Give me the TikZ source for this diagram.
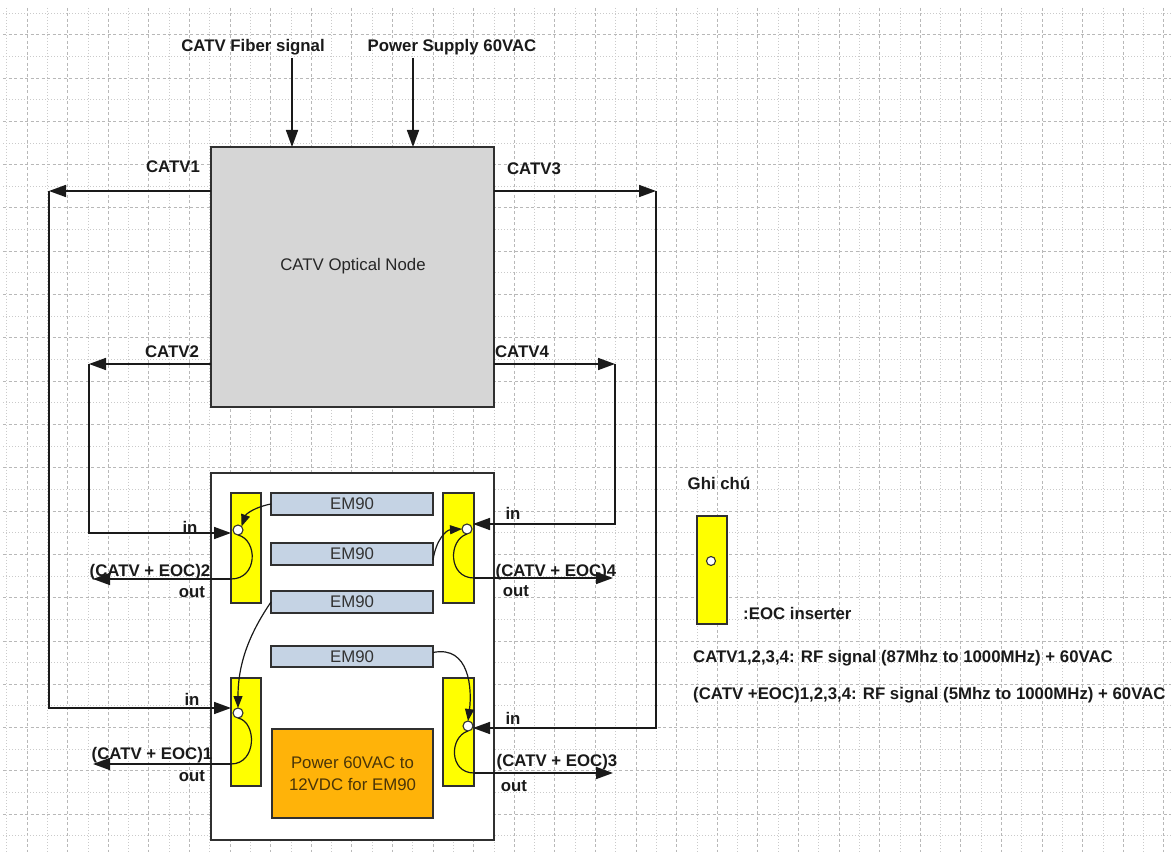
\documentclass[tikz,border=0pt]{standalone}
\usepackage{fontspec}
\setmainfont{Liberation Sans}
\usetikzlibrary{arrows.meta}
\definecolor{gbox}{HTML}{D6D6D6}
\definecolor{emfill}{HTML}{C5D3E4}
\definecolor{pwfill}{HTML}{FFB309}
\definecolor{yfill}{HTML}{FFFF00}
\definecolor{edge}{HTML}{303030}
\definecolor{ink}{HTML}{1A1A1A}
\definecolor{gmajc}{HTML}{B8B8B8}
\definecolor{gminc}{HTML}{CACACA}
\definecolor{pwtext}{HTML}{4A3508}
\begin{document}
\begin{tikzpicture}[x=1pt,y=-1pt,
  gmaj/.style={draw=gmajc,line width=0.7pt,dash pattern=on 3pt off 2.5pt},
  gmin/.style={draw=gminc,line width=0.7pt,dash pattern=on 1pt off 2pt},
  boxbase/.style={draw=edge,line width=1.5pt,inner sep=0pt,outer sep=0pt},
  graybox/.style={boxbase,fill=gbox,minimum width=283pt,minimum height=260pt},
  outerbox/.style={boxbase,fill=white,minimum width=283pt,minimum height=367pt},
  embox/.style={boxbase,fill=emfill,minimum width=162pt,minimum height=22pt,text=black!80,font=\fontsize{16.8}{19}\selectfont},
  pwbox/.style={boxbase,fill=pwfill,minimum width=161pt,minimum height=89pt,text=pwtext,align=center,font=\fontsize{16.8}{22}\selectfont},
  ybar/.style={boxbase,fill=yfill,minimum width=30pt,minimum height=110pt},
  port/.style={circle,draw=edge,line width=1.1pt,fill=white,minimum size=10pt,inner sep=0pt,outer sep=0pt},
  lab/.style={inner sep=0pt,text=ink,font=\fontsize{16.8}{19}\selectfont\bfseries},
  plain/.style={inner sep=0pt,text=black!85,font=\fontsize{16.8}{19}\selectfont},
  ln/.style={draw=ink,line width=1.6pt},
  arr/.style={ln,-{Triangle[length=17pt,width=12pt]}},
  sarr/.style={draw=ink,line width=1.2pt,-{Triangle[length=12pt,width=9pt]}},
]
\useasboundingbox (0,0) rectangle (1171,858);
\fill[white] (0,0) rectangle (1171,858);
% grid
\foreach \k in {0,...,57}{%
  \pgfmathsetmacro{\gx}{6.7+20.3*\k}%
  \ifodd\k\relax \draw[gmaj] (\gx,8) -- (\gx,852);\else \draw[gmin] (\gx,8) -- (\gx,852);\fi}
\foreach \k in {0,...,38}{%
  \pgfmathsetmacro{\gy}{13+21.65*\k}%
  \ifodd\k\relax \draw[gmaj] (3,\gy) -- (1171,\gy);\else \draw[gmin] (3,\gy) -- (1171,\gy);\fi}

% optical node
\node[graybox] (optnode) at (352.5,277) {};
\node[plain] (tnode) at (353,266) {CATV Optical Node};

% top inputs
\node[lab] (tfib) at (253,47) {CATV Fiber signal};
\node[lab] (tpwr) at (452,47) {Power Supply 60VAC};
\coordinate (fibst) at (292,58);
\coordinate (pwrst) at (413,58);
\draw[arr] (fibst) -- (fibst |- optnode.north);
\draw[arr] (pwrst) -- (pwrst |- optnode.north);

% CATV labels
\node[lab] (t1) at (173,167) {CATV1};
\node[lab] (t3) at (534,169) {CATV3};
\node[lab] (t2) at (172,352) {CATV2};
\node[lab] (t4) at (522,352) {CATV4};

% EOC box
\node[outerbox] (outer) at (352.5,656.5) {};
\node[embox] (em1) at (352,504) {EM90};
\node[embox] (em2) at (352,554) {EM90};
\node[embox] (em3) at (352,602) {EM90};
\node[embox,minimum height=21pt] (em4) at (352,656.5) {EM90};
\node[pwbox] (pw) at (352.5,773.5) {Power 60VAC to\\12VDC for EM90};
\node[ybar] (yTL) at (246,548) {};
\node[ybar,minimum width=31pt] (yTR) at (458.5,548) {};
\node[ybar,minimum height=108pt] (yBL) at (246,732) {};
\node[ybar,minimum width=31pt,minimum height=108pt] (yBR) at (458.5,732) {};

% corner coordinates
\coordinate (k1) at (49,191);
\coordinate (k2) at (89,364);
\coordinate (k3) at (656,191);
\coordinate (k4) at (615,364);
\coordinate (inTL) at (231,533);
\coordinate (inBL) at (231,708);
\coordinate (inTR) at (473,524);
\coordinate (inBR) at (473,728);
\coordinate (oTL) at (231,579);
\coordinate (oBL) at (231,764);
\coordinate (oTR) at (474,578);
\coordinate (oBR) at (474,773);
\coordinate (eTL) at (93,579);
\coordinate (eBL) at (93,764);
\coordinate (eTR) at (613,578);
\coordinate (eBR) at (613,773);

% feeds
\draw[arr] (k1 -| optnode.west) -- (k1);
\draw[arr] (k1) |- (inBL);
\draw[arr] (k2 -| optnode.west) -- (k2);
\draw[arr] (k2) |- (inTL);
\draw[arr] (k3 -| optnode.east) -- (k3);
\draw[arr] (k3) |- (inBR);
\draw[arr] (k4 -| optnode.east) -- (k4);
\draw[arr] (k4) |- (inTR);

% loops inside inserters
\draw[ln,line width=1.2pt] (238,535) .. controls (258,540) and (258,579) .. (oTL);
\draw[ln,line width=1.2pt] (238,718) .. controls (257,722) and (257,764) .. (oBL);
\draw[ln,line width=1.2pt] (467,534) .. controls (448,540) and (448,578) .. (oTR);
\draw[ln,line width=1.2pt] (468,731) .. controls (449,737) and (449,773) .. (oBR);

% outputs
\draw[arr] (oTL) -- (eTL);
\draw[arr] (oBL) -- (eBL);
\draw[arr] (oTR) -- (eTR);
\draw[arr] (oBR) -- (eBR);

% ports
\node[port] (cTL) at (238,530) {};
\node[port] (cTR) at (467,529) {};
\node[port] (cBL) at (238,713) {};
\node[port] (cBR) at (468,726) {};

% EM90 to inserters
\draw[sarr] (em1.west) .. controls (255,507) and (246,514) .. (cTL.north east);
\draw[sarr] ([yshift=-6pt]em2.east) .. controls (436,540) and (446,530) .. (cTR.west);
\draw[sarr] (em3.west) .. controls (252,630) and (238,660) .. (cBL.north);
\draw[sarr] ([yshift=4pt]em4.east) .. controls (470,645) and (472,690) .. (cBR.north);

% in / out labels
\node[lab] (inlTL) at (190,527) {in};
\node[lab] (inlBL) at (192,699) {in};
\node[lab] (inlTR) at (513,513) {in};
\node[lab] (inlBR) at (513,718) {in};
\node[lab] (olTL) at (150,572) {(CATV + EOC)2};
\node[lab] (olBL) at (152,755) {(CATV + EOC)1};
\node[lab] (olTR) at (556,572) {(CATV + EOC)4};
\node[lab] (olBR) at (557,762) {(CATV + EOC)3};
\node[lab] (outTL) at (192,592) {out};
\node[lab] (outBL) at (192,776) {out};
\node[lab] (outTR) at (516,591) {out};
\node[lab] (outBR) at (514,786) {out};

% legend
\node[lab] (ghichu) at (719,483) {Ghi chú};
\node[ybar,minimum height=108pt] (legbar) at (712,570) {};
\node[port,minimum size=9pt] (legport) at (711,561) {};
\node[lab,anchor=west] (legtxt) at (743,613) {:EOC inserter};
\node[lab,anchor=west] (leg1) at (693,658) {CATV1,2,3,4: RF signal (87Mhz to 1000MHz) + 60VAC};
\node[lab,anchor=west] (leg2) at (693,695) {(CATV +EOC)1,2,3,4: RF signal (5Mhz to 1000MHz) + 60VAC};
\end{tikzpicture}
\end{document}
